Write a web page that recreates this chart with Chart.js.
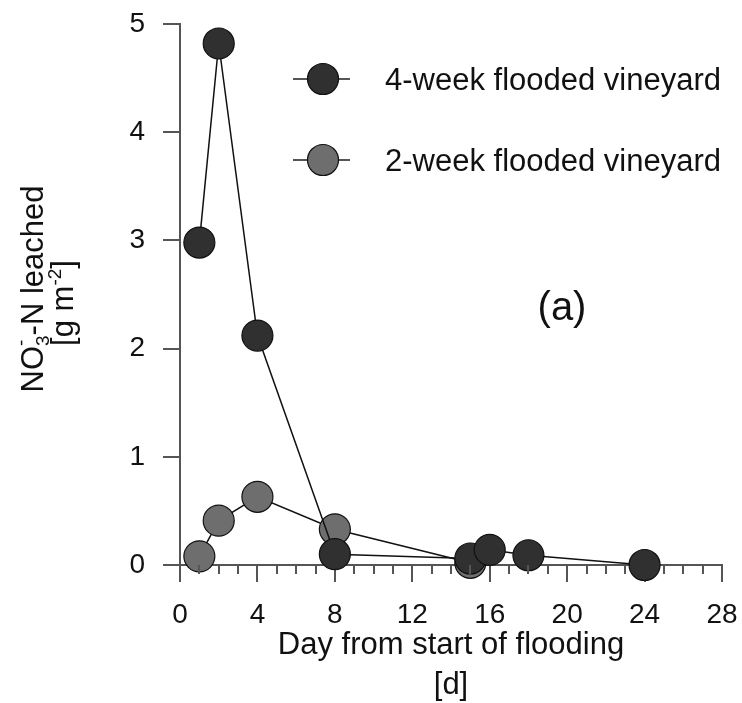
<!DOCTYPE html>
<html>
<head>
<meta charset="utf-8">
<script src="https://cdn.jsdelivr.net/npm/chart.js@4"></script>
<style>
  html, body { margin: 0; padding: 0; background: #fff; }
  #wrap { width: 742px; height: 703px; }
</style>
</head>
<body>
<div id="wrap"><canvas id="myChart" width="742" height="703"></canvas></div>
<script>
const FONT = 'Liberation Sans, Arial, sans-serif';
const AXIS = '#555555';
const INK = '#111111';
const DARK = '#303030';
const GREY = '#6e6e6e';

// data
const days4 = [1, 2, 4, 8, 15, 16, 18, 24];
const leached4 = [2.98, 4.82, 2.12, 0.10, 0.06, 0.14, 0.09, 0.0];
const days2 = [1, 2, 4, 8, 15];
const leached2 = [0.08, 0.41, 0.63, 0.33, 0.02];
const seriesLabels = ['4-week flooded vineyard', '2-week flooded vineyard'];
const xTicks = [0, 4, 8, 12, 16, 20, 24, 28];
const yTicks = [0, 1, 2, 3, 4, 5];

function points(xs, ys) {
    return xs.map((x, i) => ({x, y: ys[i]}));
}

function getDataset(label, xs, ys, fill) {
    return {
        label,
        data: points(xs, ys),
        borderColor: INK,
        borderWidth: 1.5,
        pointRadius: 15.5,
        pointBackgroundColor: fill,
        pointBorderColor: INK,
        pointBorderWidth: 1.2,
        clip: false
    };
}

// minor ticks, legend, y title and panel label
const extras = {
    id: 'extras',
    afterDraw(chart) {
        const c = chart.ctx;
        const xs = chart.scales.x;
        const y0 = chart.scales.y.getPixelForValue(0);
        c.save();

        // minor x ticks every day
        c.strokeStyle = AXIS;
        c.lineWidth = 2;
        for (let d = xs.min; d <= xs.max; d++) {
            if (d % 4 === 0) continue;
            const px = Math.round(xs.getPixelForValue(d));
            c.beginPath();
            c.moveTo(px, y0);
            c.lineTo(px, y0 + 9);
            c.stroke();
        }

        // legend
        c.font = '31px ' + FONT;
        c.textBaseline = 'middle';
        c.textAlign = 'left';
        const rows = [79, 160];
        chart.data.datasets.forEach((ds, i) => {
            const cy = rows[i];
            c.strokeStyle = AXIS;
            c.lineWidth = 2;
            c.beginPath();
            c.moveTo(293, cy);
            c.lineTo(350, cy);
            c.stroke();
            c.beginPath();
            c.arc(323, cy, ds.pointRadius, 0, Math.PI * 2);
            c.fillStyle = ds.pointBackgroundColor;
            c.fill();
            c.lineWidth = ds.pointBorderWidth;
            c.strokeStyle = ds.pointBorderColor;
            c.stroke();
            c.fillStyle = INK;
            c.fillText(ds.label, 385, cy + 2);
        });

        // panel label
        c.font = '40px ' + FONT;
        c.textAlign = 'center';
        c.fillText('(a)', 562, 309);

        // y axis title with sub/superscripts
        c.textBaseline = 'alphabetic';
        const big = '31px ' + FONT;
        const small = '19px ' + FONT;
        function line(parts, cx, baseX) {
            let total = 0;
            parts.forEach(p => {
                c.font = p.small ? small : big;
                p.w = p.stack ? Math.max(...p.stack.map(s => c.measureText(s.t).width)) : c.measureText(p.t).width;
                total += p.w;
            });
            c.save();
            c.translate(baseX, cx);
            c.rotate(-Math.PI / 2);
            c.textAlign = 'left';
            let x = -total / 2;
            parts.forEach(p => {
                if (p.stack) {
                    c.font = small;
                    p.stack.forEach(s => c.fillText(s.t, x, s.dy));
                } else {
                    c.font = p.small ? small : big;
                    c.fillText(p.t, x, p.dy || 0);
                }
                x += p.w;
            });
            c.restore();
        }
        c.fillStyle = INK;
        line([
            {t: 'NO'},
            {small: true, stack: [{t: '3', dy: 6}, {t: '-', dy: -16}]},
            {t: '-N leached'}
        ], 289, 43);
        line([
            {t: '[g m'},
            {t: '-2', small: true, dy: -12},
            {t: ']'}
        ], 303, 73);

        c.restore();
    }
};

var ctx = document.getElementById('myChart').getContext('2d');

new Chart(ctx, {
    type: 'line',
    data: {
        datasets: [
            getDataset(seriesLabels[0], days4, leached4, DARK),
            getDataset(seriesLabels[1], days2, leached2, GREY)
        ]
    },
    options: {
        animation: false,
        responsive: false,
        layout: {
            padding: {left: 0, right: 20, top: 24, bottom: 0}
        },
        plugins: {
            legend: {display: false},
            tooltip: {enabled: false}
        },
        scales: {
            x: {
                type: 'linear',
                min: 0,
                max: 28,
                afterBuildTicks: s => { s.ticks = xTicks.map(v => ({value: v})); },
                grid: {
                    drawOnChartArea: false,
                    color: AXIS,
                    lineWidth: 2,
                    tickLength: 17
                },
                border: {color: AXIS, width: 2},
                ticks: {
                    color: INK,
                    padding: 16,
                    maxRotation: 0,
                    font: {family: FONT, size: 28}
                },
                title: {
                    display: true,
                    text: ['Day from start of flooding', '[d]'],
                    color: INK,
                    font: {family: FONT, size: 31, lineHeight: 1.3},
                    padding: {top: 0, bottom: -3}
                },
                afterFit: s => {
                    s.height = 703 - 565;
                    s.paddingLeft = 0;
                    s.paddingRight = 0;
                }
            },
            y: {
                min: 0,
                max: 5,
                afterBuildTicks: s => { s.ticks = yTicks.map(v => ({value: v})); },
                grid: {
                    drawOnChartArea: false,
                    color: AXIS,
                    lineWidth: 2,
                    tickLength: 17
                },
                border: {color: AXIS, width: 2},
                ticks: {
                    color: INK,
                    padding: 18,
                    font: {family: FONT, size: 28}
                },
                afterFit: s => {
                    s.width = 180;
                    s.paddingTop = 0;
                    s.paddingBottom = 0;
                }
            }
        }
    },
    plugins: [extras]
});
</script>
</body>
</html>
